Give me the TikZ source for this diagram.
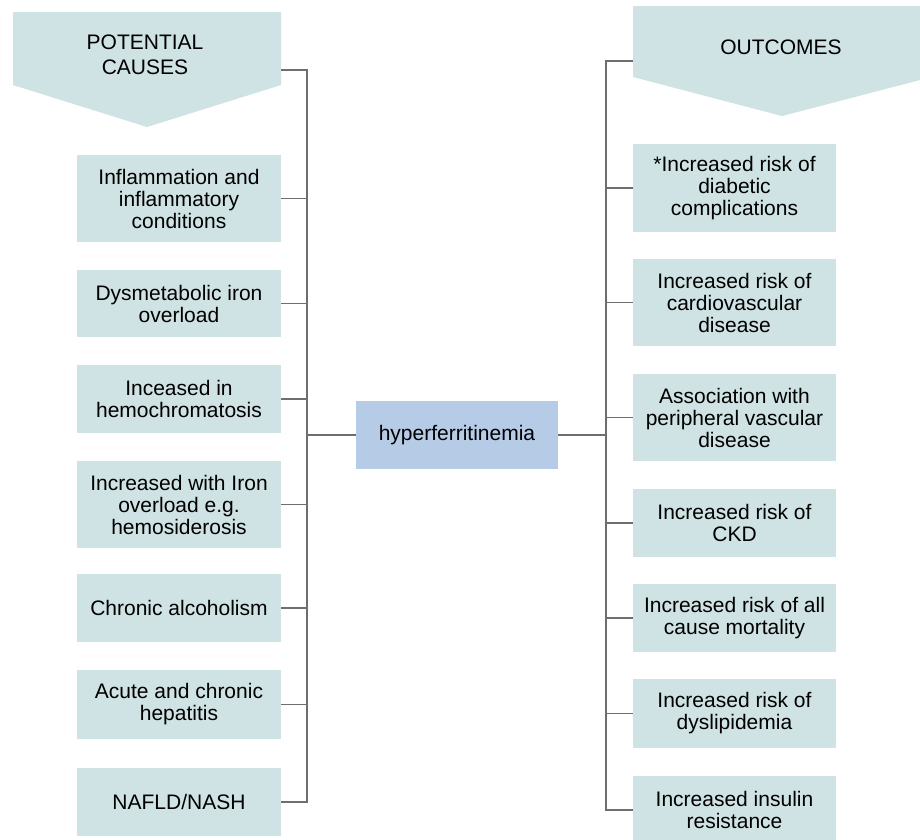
\documentclass[tikz,border=0pt]{standalone}
\usepackage{fontspec}
\setmainfont{Liberation Sans}
\definecolor{boxfill}{RGB}{207,226,228}
\definecolor{hypfill}{RGB}{181,203,230}
\definecolor{linegray}{RGB}{110,110,110}
\begin{document}
\begin{tikzpicture}[x=1pt,y=-1pt,
  txt/.style={align=center, inner sep=0pt, font=\fontsize{21}{22}\selectfont},
  lbox/.style={txt, fill=boxfill, draw=none, minimum width=204pt},
  rbox/.style={txt, fill=boxfill, draw=none, minimum width=203pt},
  conn/.style={draw=linegray, line width=1.5pt},
]
\useasboundingbox (0,0) rectangle (920,839);
\clip (0,0) rectangle (920,839);
\fill[white] (0,0) rectangle (920,839);

% chevrons
\fill[boxfill] (13,12) -- (281,12) -- (281,85) -- (147,127) -- (13,85) -- cycle;
\node[txt, font=\fontsize{21}{25}\selectfont] (causes) at (145,55) {POTENTIAL\\CAUSES};
\coordinate (cL) at (281,70);
\fill[boxfill] (633,6) -- (920,6) -- (920,80) -- (782,116) -- (633,77) -- cycle;
\node[txt] (outcomes) at (781,47) {OUTCOMES};
\coordinate (cR) at (633,61);

\coordinate (busL) at (307,0);
\coordinate (busR) at (606,0);

% left boxes
\node[lbox, minimum height=87pt] (L1) at (179,198.5) {Inflammation and\\inflammatory\\conditions};
\node[lbox, minimum height=67pt] (L2) at (179,303.5) {Dysmetabolic iron\\overload};
\node[lbox, minimum height=68pt] (L3) at (179,399) {Inceased in\\hemochromatosis};
\node[lbox, minimum height=87pt] (L4) at (179,504.5) {Increased with Iron\\overload e.g.\\hemosiderosis};
\node[lbox, minimum height=68pt] (L5) at (179,608) {Chronic alcoholism};
\node[lbox, minimum height=69pt] (L6) at (179,704.5) {Acute and chronic\\hepatitis};
\node[lbox, minimum height=68pt] (L7) at (179,802) {NAFLD/NASH};

% right boxes
\node[rbox, minimum height=88pt] (R1) at (734.5,188) {*Increased risk of\\diabetic\\complications};
\node[rbox, minimum height=87pt] (R2) at (734.5,302.5) {Increased risk of\\cardiovascular\\disease};
\node[rbox, minimum height=87pt] (R3) at (734.5,417.5) {Association with\\peripheral vascular\\disease};
\node[rbox, minimum height=68pt] (R4) at (734.5,523) {Increased risk of\\CKD};
\node[rbox, minimum height=68pt] (R5) at (734.5,618) {Increased risk of all\\cause mortality};
\node[rbox, minimum height=69pt] (R6) at (734.5,713.5) {Increased risk of\\dyslipidemia};
\node[rbox, minimum height=68pt] (R7) at (734.5,810) {Increased insulin\\resistance};

% center
\node[txt, fill=hypfill, minimum width=202pt, minimum height=68pt] (hyp) at (457,435) {hyperferritinemia};

% left connectors
\draw[conn] (cL) -- (cL -| busL) -- (L7.east -| busL) -- (L7.east);
\foreach \n in {L1,L2,L3,L4,L5,L6}
  \draw[conn] (\n.east) -- (\n.east -| busL);
\draw[conn] (hyp.west) -- (hyp.west -| busL);

% right connectors
\draw[conn] (cR) -- (cR -| busR) -- (R7.west -| busR) -- (R7.west);
\foreach \n in {R1,R2,R3,R4,R5,R6}
  \draw[conn] (\n.west) -- (\n.west -| busR);
\draw[conn] (hyp.east) -- (hyp.east -| busR);
\end{tikzpicture}
\end{document}
